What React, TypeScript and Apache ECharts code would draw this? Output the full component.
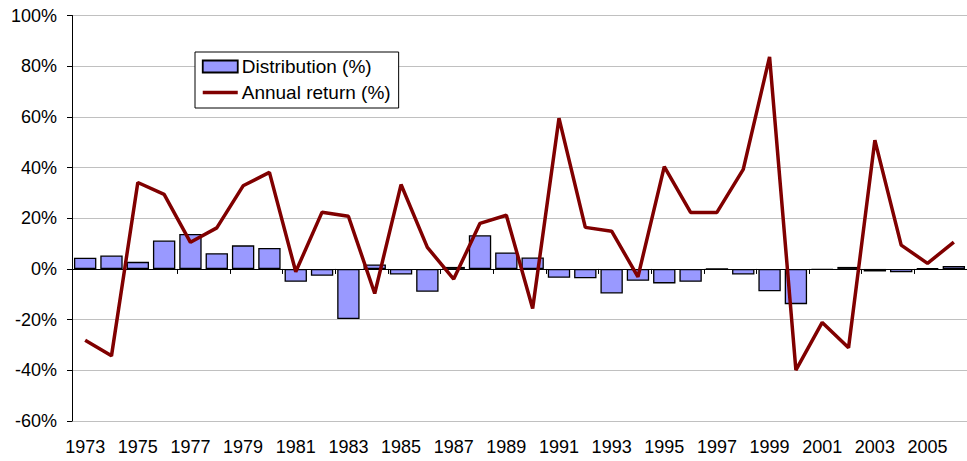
import React, { useEffect, useRef } from "react";
import * as echarts from "echarts";

const years = [
  "1973", "1974", "1975", "1976", "1977", "1978", "1979", "1980", "1981", "1982",
  "1983", "1984", "1985", "1986", "1987", "1988", "1989", "1990", "1991", "1992",
  "1993", "1994", "1995", "1996", "1997", "1998", "1999", "2000", "2001", "2002",
  "2003", "2004", "2005", "2006",
];

const distribution = [
  4.4, 5.3, 2.8, 11.2, 13.8, 6.2, 9.3, 8.3, -5.1, -2.7,
  -19.8, 1.8, -2.2, -9.0, 0.8, 13.3, 6.5, 4.5, -3.5, -3.7,
  -9.7, -4.7, -5.7, -5.1, 0, -2.2, -8.8, -13.9, -0.3, 0.8,
  -1.0, -1.3, 0.3, 1.2,
];

const annualReturn = [
  -28.1, -34.3, 34.1, 29.4, 10.5, 16.2, 32.8, 38.1, -1.1, 22.4,
  20.8, -9.7, 33.3, 8.5, -4.0, 18.0, 21.2, -15.6, 59.5, 16.4,
  14.9, -3.1, 40.4, 22.3, 22.3, 39.3, 83.7, -39.9, -21.1, -31.1,
  50.8, 9.4, 2.2, 10.6,
];

const FONT = "'Liberation Sans', Arial, sans-serif";

export default function App() {
  const ref = useRef<HTMLDivElement>(null);

  useEffect(() => {
    if (!ref.current) return;
    const chart = echarts.init(ref.current, null, { renderer: "svg" });
    chart.setOption({
      animation: false,
      backgroundColor: "#ffffff",
      textStyle: { fontFamily: FONT },
      grid: { left: 72, right: -11, top: 15.5, bottom: 40 },
      legend: {
        orient: "vertical",
        left: 195,
        top: 52,
        padding: [5, 8, 6, 6],
        itemGap: 7,
        itemWidth: 35,
        itemHeight: 12,
        backgroundColor: "#ffffff",
        borderColor: "#000000",
        borderWidth: 1,
        borderRadius: 0,
        textStyle: { fontSize: 19, color: "#000000", fontFamily: FONT, padding: [0, 0, 0, -1] },
        data: [
          {
            name: "Distribution (%)",
            icon: "rect",
            itemStyle: { color: "#9999ff", borderColor: "#000000", borderWidth: 1.8 },
          },
          {
            name: "Annual return (%)",
            itemStyle: { opacity: 0 },
            lineStyle: { color: "#800000", width: 3.5, opacity: 1 },
          },
        ],
      },
      xAxis: [
        {
          type: "category",
          data: years,
          position: "bottom",
          axisLine: { show: false, onZero: false },
          axisTick: { show: false },
          axisLabel: {
            interval: 1,
            fontSize: 18,
            color: "#000000",
            margin: 17,
            fontFamily: FONT,
          },
          splitLine: { show: false },
        },
        {
          type: "category",
          data: years,
          position: "bottom",
          axisLine: { show: true, onZero: true, lineStyle: { color: "#000000", width: 1 } },
          axisTick: { show: true, interval: 1, length: 5, lineStyle: { color: "#000000" } },
          axisLabel: { show: false },
          splitLine: { show: false },
        },
      ],
      yAxis: {
        type: "value",
        min: -60,
        max: 100,
        interval: 20,
        axisLine: { show: true, lineStyle: { color: "#000000", width: 1 } },
        axisTick: { show: true, length: 5, lineStyle: { color: "#000000" } },
        axisLabel: {
          formatter: "{value}%",
          fontSize: 18,
          color: "#000000",
          margin: 15,
          fontFamily: FONT,
        },
        splitLine: { show: true, lineStyle: { color: "#c0c0c0", width: 1 } },
      },
      series: [
        {
          name: "Distribution (%)",
          type: "bar",
          xAxisIndex: 0,
          data: distribution,
          barCategoryGap: "15%",
          itemStyle: { color: "#9999ff", borderColor: "#000000", borderWidth: 1.3 },
          z: 2,
        },
        {
          name: "Annual return (%)",
          type: "line",
          xAxisIndex: 0,
          data: annualReturn,
          symbol: "none",
          lineStyle: { color: "#800000", width: 3.5 },
          itemStyle: { color: "#800000" },
          z: 3,
        },
      ],
    });
    return () => chart.dispose();
  }, []);

  return (
    <div
      ref={ref}
      style={{ position: "absolute", left: 0, top: 0, width: 967, height: 461 }}
    />
  );
}
